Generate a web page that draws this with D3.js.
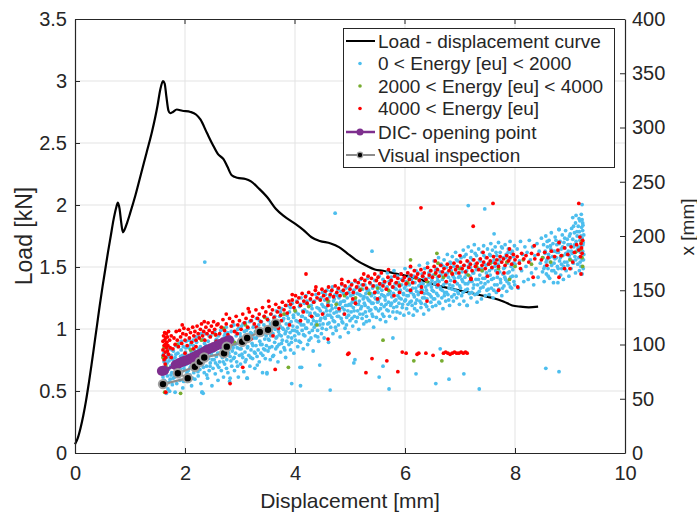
<!DOCTYPE html>
<html><head><meta charset="utf-8">
<script src="https://cdn.jsdelivr.net/npm/d3@7/dist/d3.min.js"></script>
<style>
body{margin:0;background:#fff}
text{font-family:"Liberation Sans",Arial,Helvetica,sans-serif;fill:#262626}
</style>
</head><body>
<svg id="c" width="697" height="518"></svg>
<script>
// ---------- data ----------
const loadD  = [0,0.05,0.1,0.15,0.2,0.25,0.3,0.35,0.4,0.45,0.5,0.55,0.6,0.65,0.7,0.75,0.78,0.81,0.84,0.87,0.9,0.95,1.0,1.1,1.2,1.3,1.4,1.5,1.55,1.6,1.63,1.66,1.7,1.73,1.78,1.85,1.95,2.1,2.2,2.28,2.4,2.5,2.6,2.7,2.77,2.85,2.95,3.1,3.2,3.35,3.5,3.65,3.8,4.0,4.15,4.3,4.45,4.65,4.8,4.95,5.1,5.3,5.45,5.6,5.8,6.0,6.2,6.4,6.6,6.8,7.0,7.2,7.4,7.6,7.8,7.95,8.1,8.25,8.42];
const loadKN = [0.07,0.12,0.2,0.3,0.42,0.56,0.71,0.87,1.03,1.19,1.34,1.48,1.62,1.75,1.88,1.98,2.02,1.97,1.86,1.78,1.8,1.86,1.93,2.08,2.25,2.42,2.59,2.8,2.93,3.0,2.98,2.88,2.76,2.74,2.75,2.77,2.76,2.75,2.73,2.69,2.58,2.49,2.41,2.37,2.31,2.24,2.22,2.21,2.19,2.13,2.06,1.97,1.91,1.85,1.8,1.74,1.71,1.69,1.66,1.61,1.56,1.51,1.48,1.47,1.45,1.43,1.41,1.38,1.35,1.33,1.31,1.29,1.27,1.25,1.22,1.19,1.18,1.175,1.18];

// 0 < Energy < 2000  : [displacement mm, x mm]
const energyLow = [
[1.6,62],[1.6,70],[1.61,78],[1.62,84],[1.6,90],[1.63,74],[1.64,66],[1.65,81],[1.66,88],[1.67,93],[1.68,71],[1.69,59],[1.7,77],[1.71,85],[1.72,96],[1.73,68],[1.74,80],[1.75,90],[1.76,74],[1.77,63],[1.78,86],[1.79,94],[1.8,79],[1.66,55],[1.72,57],
[1.81,70],[1.82,88],[1.83,99],[1.84,76],[1.85,64],[1.86,83],[1.87,92],[1.88,72],[1.89,101],[1.9,80],[1.91,67],[1.92,89],[1.93,95],[1.94,75],[1.95,84],[1.96,60],[1.97,98],[1.98,78],[1.99,87],[2.0,70],[2.01,93],[2.02,103],[2.03,82],[2.04,66],[2.05,90],[2.06,76],[2.07,97],[2.08,85],[2.09,72],[2.1,100],[2.11,80],[2.12,62],[2.13,91],[2.14,86],[2.15,104],[2.16,74],[2.17,95],[2.18,68],[2.19,88],[2.2,79],
[2.21,102],[2.22,84],[2.23,93],[2.24,71],[2.25,107],[2.26,88],[2.27,77],[2.28,98],[2.29,64],[2.3,90],[2.31,56],[2.32,82],[2.33,105],[2.34,95],[2.35,74],[2.36,86],[2.37,110],[2.38,99],[2.39,80],[2.4,92],[2.41,69],[2.42,103],[2.43,87],[2.44,76],[2.45,96],[2.46,83],[2.47,108],[2.48,91],[2.49,62],[2.5,100],[2.51,78],[2.52,94],[2.53,86],[2.54,112],[2.55,73],[2.56,104],[2.57,89],[2.58,97],[2.59,81],[2.6,67],
[2.61,108],[2.62,92],[2.63,84],[2.64,100],[2.65,113],[2.66,76],[2.67,95],[2.68,88],[2.69,105],[2.7,70],[2.71,98],[2.72,82],[2.73,110],[2.74,91],[2.75,116],[2.76,86],[2.77,102],[2.78,74],[2.79,95],[2.8,107],[2.81,66],[2.82,89],[2.83,99],[2.84,112],[2.85,80],[2.86,94],[2.87,104],[2.88,87],[2.89,118],[2.9,76],[2.91,100],[2.92,92],[2.93,108],[2.94,84],[2.95,97],[2.96,114],[2.97,70],[2.98,103],[2.99,90],[3.0,110],
[3.01,82],[3.02,96],[3.03,117],[3.04,105],[3.05,88],[3.06,100],[3.07,75],[3.08,112],[3.09,93],[3.1,120],[3.11,86],[3.12,108],[3.13,69],[3.14,98],[3.15,115],[3.16,90],[3.17,104],[3.18,80],[3.19,111],[3.2,95],[3.21,122],[3.22,101],[3.23,87],[3.24,116],[3.25,106],[3.26,93],[3.27,78],[3.28,112],[3.29,99],[3.3,124],[3.31,89],[3.32,108],[3.33,95],[3.34,118],[3.35,84],[3.36,103],[3.37,113],[3.38,92],[3.39,121],[3.4,100],[3.41,74],[3.42,110],[3.43,96],[3.44,126],[3.45,105],[3.46,87],[3.47,116],[3.48,99],[3.49,73],[3.5,112],
[3.51,94],[3.52,122],[3.53,104],[3.54,115],[3.55,86],[3.56,108],[3.57,128],[3.58,98],[3.59,118],[3.6,110],[3.61,90],[3.62,124],[3.63,102],[3.64,114],[3.65,96],[3.66,131],[3.67,107],[3.68,120],[3.69,84],[3.7,112],[3.71,100],[3.72,126],[3.73,117],[3.74,93],[3.75,108],[3.76,133],[3.77,104],[3.78,122],[3.79,114],[3.8,97],[3.81,128],[3.82,110],[3.83,88],[3.84,119],[3.85,103],[3.86,136],[3.87,115],[3.88,124],[3.89,100],[3.9,130],[3.91,111],[3.92,95],[3.93,121],[3.94,106],[3.95,138],[3.96,117],[3.97,127],[3.98,92],[3.99,113],[4.0,132],
[4.01,104],[4.02,122],[4.03,140],[4.04,116],[4.05,98],[4.06,128],[4.07,110],[4.08,135],[4.09,120],[4.1,102],[4.11,143],[4.12,126],[4.13,113],[4.14,131],[4.15,96],[4.16,118],[4.17,138],[4.18,108],[4.19,124],[4.2,145],[4.21,115],[4.22,130],[4.23,100],[4.24,122],[4.25,136],[4.26,111],[4.27,127],[4.28,141],[4.29,106],[4.3,119],[4.31,133],[4.32,125],[4.33,94],[4.34,139],[4.35,116],[4.36,129],[4.37,108],[4.38,146],[4.39,121],[4.4,134],[4.41,113],[4.42,127],[4.43,103],[4.44,142],[4.45,118],[4.46,131],[4.47,124],[4.48,110],[4.49,137],[4.5,148],
[4.51,119],[4.52,129],[4.53,106],[4.54,141],[4.55,124],[4.56,134],[4.57,114],[4.58,150],[4.59,127],[4.6,138],[4.61,102],[4.62,120],[4.63,144],[4.64,131],[4.65,116],[4.66,136],[4.67,125],[4.68,153],[4.69,110],[4.7,140],[4.71,129],[4.72,121],[4.73,146],[4.74,134],[4.75,113],[4.76,138],[4.77,126],[4.78,151],[4.79,118],[4.8,143],[4.81,131],[4.82,107],[4.83,139],[4.84,124],[4.85,155],[4.86,134],[4.87,120],[4.88,147],[4.89,128],[4.9,140],[4.91,115],[4.92,136],[4.93,152],[4.94,125],[4.95,143],[4.96,131],[4.97,111],[4.98,148],[4.99,137],[5.0,122],
[5.01,145],[5.02,130],[5.03,156],[5.04,139],[5.05,117],[5.06,134],[5.07,150],[5.08,126],[5.09,142],[5.1,158],[5.11,121],[5.12,137],[5.13,147],[5.14,131],[5.15,153],[5.16,114],[5.17,140],[5.18,128],[5.19,160],[5.2,145],[5.21,135],[5.22,124],[5.23,151],[5.24,142],[5.25,119],[5.26,138],[5.27,155],[5.28,130],[5.29,147],[5.3,126],[5.31,143],[5.32,161],[5.33,134],[5.34,150],[5.35,122],[5.36,140],[5.37,156],[5.38,132],[5.39,145],[5.4,128],[5.41,152],[5.42,138],[5.43,116],[5.44,147],[5.45,159],[5.46,134],[5.47,142],[5.48,125],[5.49,154],[5.5,139],
[5.51,148],[5.52,131],[5.53,163],[5.54,143],[5.55,123],[5.56,155],[5.57,137],[5.58,150],[5.59,128],[5.6,160],[5.61,145],[5.62,135],[5.63,157],[5.64,141],[5.65,121],[5.66,152],[5.67,132],[5.68,166],[5.69,146],[5.7,139],[5.71,158],[5.72,126],[5.73,149],[5.74,136],[5.75,162],[5.76,144],[5.77,153],[5.78,130],[5.79,147],[5.8,168],[5.81,140],[5.82,156],[5.83,124],[5.84,151],[5.85,135],[5.86,163],[5.87,145],[5.88,157],[5.89,138],[5.9,149],[5.91,129],[5.92,165],[5.93,142],[5.94,155],[5.95,134],[5.96,160],[5.97,147],[5.98,127],[5.99,152],[6.0,170],
[6.01,141],[6.02,158],[6.03,133],[6.04,150],[6.05,166],[6.06,145],[6.07,129],[6.08,155],[6.09,139],[6.1,171],[6.11,148],[6.12,160],[6.13,136],[6.14,152],[6.15,127],[6.16,163],[6.17,144],[6.18,157],[6.19,138],[6.2,168],[6.21,149],[6.22,131],[6.23,161],[6.24,146],[6.25,154],[6.26,173],[6.27,140],[6.28,158],[6.29,134],[6.3,151],[6.31,165],[6.32,143],[6.33,156],[6.34,128],[6.35,147],[6.36,170],[6.37,137],[6.38,160],[6.39,150],[6.4,142],[6.41,175],[6.42,155],[6.43,132],[6.44,162],[6.45,146],[6.46,168],[6.47,139],[6.48,153],[6.49,159],[6.5,135],
[6.51,164],[6.52,149],[6.53,177],[6.54,142],[6.55,157],[6.56,136],[6.57,170],[6.58,153],[6.59,162],[6.6,145],[6.61,180],[6.62,158],[6.63,138],[6.64,167],[6.65,151],[6.66,174],[6.67,143],[6.68,160],[6.69,133],[6.7,155],[6.71,178],[6.72,148],[6.73,165],[6.74,140],[6.75,171],[6.76,157],[6.77,183],[6.78,146],[6.79,162],[6.8,152],[6.81,136],[6.82,176],[6.83,159],[6.84,168],[6.85,144],[6.86,181],[6.87,154],[6.88,140],[6.89,172],[6.9,161],[6.91,150],[6.92,185],[6.93,166],[6.94,143],[6.95,156],[6.96,177],[6.97,147],[6.98,170],[6.99,137],[7.0,163],
[7.01,152],[7.02,180],[7.03,145],[7.04,167],[7.05,158],[7.06,187],[7.07,140],[7.08,173],[7.09,162],[7.1,150],[7.11,183],[7.12,168],[7.13,136],[7.14,156],[7.15,190],[7.16,176],[7.17,147],[7.18,163],[7.19,171],[7.2,143],[7.21,186],[7.22,158],[7.23,178],[7.24,152],[7.25,166],[7.26,192],[7.27,146],[7.28,174],[7.29,160],[7.3,182],[7.31,139],[7.32,155],[7.33,170],[7.34,188],[7.35,149],[7.36,164],[7.37,177],[7.38,157],[7.39,142],[7.4,185],[7.41,168],[7.42,153],[7.43,191],[7.44,174],[7.45,161],[7.46,145],[7.47,180],[7.48,166],[7.49,150],[7.5,188],
[7.51,158],[7.52,175],[7.53,146],[7.54,183],[7.55,164],[7.56,193],[7.57,152],[7.58,170],[7.59,187],[7.6,143],[7.61,161],[7.62,178],[7.63,155],[7.64,190],[7.65,168],[7.66,148],[7.67,182],[7.68,162],[7.69,174],[7.7,194],[7.71,151],[7.72,167],[7.73,185],[7.74,157],[7.75,176],[7.76,145],[7.77,189],[7.78,165],[7.79,180],[7.8,154],[7.81,171],[7.82,192],[7.83,160],[7.84,183],[7.85,149],[7.86,175],[7.87,166],[7.88,188],[7.89,156],[7.9,178],[7.91,195],[7.92,162],[7.93,172],[7.94,152],[7.95,186],[7.96,169],[7.97,181],[7.98,158],[7.99,191],[8.0,174],
[8.02,163],[8.04,188],[8.06,152],[8.08,177],[8.1,195],[8.12,168],[8.14,183],[8.16,158],[8.18,190],[8.2,172],[8.22,185],[8.24,160],[8.26,196],[8.28,178],[8.3,166],[8.32,190],[8.34,155],[8.36,182],[8.38,170],[8.4,193],[8.42,162],[8.44,186],[8.46,175],[8.48,198],[8.5,167],
[8.51,180],[8.52,192],[8.53,158],[8.54,172],[8.55,186],[8.56,200],[8.57,165],[8.58,178],[8.59,190],[8.6,170],[8.61,183],[8.62,196],[8.63,161],[8.64,176],[8.65,188],[8.66,203],[8.67,168],[8.68,181],[8.69,193],[8.7,157],[8.71,175],[8.72,186],[8.73,199],[8.74,166],[8.75,180],[8.76,192],[8.77,172],[8.78,157],[8.79,185],[8.8,206],[8.81,177],[8.82,195],[8.83,164],[8.84,188],[8.85,170],[8.86,201],[8.87,182],[8.88,160],[8.89,194],[8.9,176],[8.91,189],[8.92,205],[8.93,168],[8.94,183],[8.95,197],[8.96,173],[8.97,186],[8.98,163],[8.99,200],[9.0,179],
[9.01,192],[9.02,170],[9.03,207],[9.04,184],[9.05,197],[9.05,217],[9.06,175],[9.07,190],[9.08,203],[9.09,181],[9.1,212],[9.1,166],[9.11,195],[9.11,219],[9.12,186],[9.13,200],[9.14,174],[9.15,209],[9.15,190],[9.16,180],[9.17,204],[9.17,168],[9.18,196],[9.18,214],[9.19,185],[9.2,200],[9.2,172],[9.21,208],[9.21,191],[9.22,178],[9.22,215],[9.22,198],[9.23,186],[9.23,205],[9.24,170],[9.24,194],[9.25,183],[9.25,201],[9.22,165],[9.23,212],
[1.605,73],[1.615,92],[1.625,67],[1.645,86],[1.655,76],[1.675,83],[1.695,90],[1.705,65],[1.725,88],[1.745,72],[1.765,95],[1.785,69],[1.815,82],[1.835,91],[1.855,73],[1.875,98],[1.895,85],[1.915,77],[1.935,103],[1.955,90],[1.975,66],[1.995,81],
[2.015,97],[2.035,74],[2.055,86],[2.075,104],[2.095,79],[2.115,93],[2.135,69],[2.155,99],[2.175,82],[2.195,107],[2.215,90],[2.235,75],[2.255,96],[2.275,85],[2.295,110],[2.315,92],[2.335,79],[2.355,101],[2.375,88],[2.395,72],[2.415,97],[2.435,108],[2.455,80],[2.475,94],[2.495,86],[2.515,111],[2.535,99],[2.555,83],[2.575,105],[2.595,92],
[2.615,79],[2.635,103],[2.655,90],[2.675,114],[2.695,84],[2.715,108],[2.735,96],[2.755,78],[2.775,111],[2.795,92],[2.815,104],[2.835,85],[2.855,117],[2.875,97],[2.895,88],[2.915,112],[2.935,101],[2.955,80],[2.975,115],[2.995,96],[3.015,107],[3.035,91],[3.055,119],[3.075,102],[3.095,84],[3.115,113],[3.135,97],[3.155,106],[3.175,121],[3.195,88],[3.215,110],[3.235,99],[3.255,117],[3.275,92],[3.295,106],[3.315,81],[3.335,114],[3.355,122],[3.375,100],[3.395,109],[3.415,90],[3.435,118],[3.455,95],[3.475,108],[3.495,124],
[3.515,105],[3.535,97],[3.555,119],[3.575,111],[3.595,89],[3.615,116],[3.635,126],[3.655,106],[3.675,98],[3.695,121],[3.715,109],[3.735,130],[3.755,101],[3.775,115],[3.795,124],[3.815,95],[3.835,112],[3.855,127],[3.875,107],[3.895,119],[3.915,134],[3.935,102],[3.955,113],[3.975,125],[3.995,108],[4.015,130],[4.035,112],[4.055,121],[4.075,103],[4.095,137],[4.115,118],[4.135,126],[4.155,109],[4.175,132],[4.195,115],[4.215,140],[4.235,121],[4.255,104],[4.275,129],[4.295,136],[4.315,113],[4.335,122],[4.355,140],[4.375,118],[4.395,127],[4.415,107],[4.435,133],[4.455,122],[4.475,143],[4.495,115],
[4.515,135],[4.535,125],[4.555,146],[4.575,131],[4.595,119],[4.615,140],[4.635,127],[4.655,149],[4.675,133],[4.695,122],[4.715,142],[4.735,116],[4.755,130],[4.775,145],[4.795,126],[4.815,137],[4.835,149],[4.855,121],[4.875,140],[4.895,132],[4.915,146],[4.935,118],[4.955,136],[4.975,127],[4.995,153],[5.015,136],[5.035,124],[5.055,146],[5.075,131],[5.095,140],[5.115,152],[5.135,125],[5.155,137],[5.175,146],[5.195,133],[5.215,155],[5.235,128],[5.255,144],[5.275,136],[5.295,121],[5.315,150],[5.335,141],[5.355,131],[5.375,147],[5.395,138],[5.415,126],[5.435,154],[5.455,143],[5.475,133],[5.495,149],
[5.515,140],[5.535,152],[5.555,133],[5.575,146],[5.595,156],[5.615,126],[5.635,144],[5.655,137],[5.675,153],[5.695,131],[5.715,147],[5.735,159],[5.755,138],[5.775,145],[5.795,134],[5.815,152],[5.835,141],[5.855,130],[5.875,155],[5.895,143],[5.915,150],[5.935,160],[5.955,137],[5.975,146],[5.995,140],[6.015,154],[6.035,145],[6.055,137],[6.075,162],[6.095,149],[6.115,140],[6.135,157],[6.155,146],[6.175,133],[6.195,152],[6.215,141],[6.235,166],[6.255,148],[6.275,155],[6.295,138],[6.315,150],[6.335,162],[6.355,143],[6.375,153],[6.395,135],[6.415,147],[6.435,166],[6.455,156],[6.475,144],[6.495,150],
[6.515,142],[6.535,156],[6.555,168],[6.575,147],[6.595,159],[6.615,139],[6.635,153],[6.655,164],[6.675,150],[6.695,172],[6.715,145],[6.735,157],[6.755,148],[6.775,166],[6.795,141],[6.815,155],[6.835,175],[6.855,151],[6.875,163],[6.895,146],[6.915,158],[6.935,178],[6.955,149],[6.975,162],[6.995,154],[7.015,171],[7.035,160],[7.055,148],[7.075,181],[7.095,156],[7.115,165],[7.135,151],[7.155,172],[7.175,158],[7.195,180],[7.215,148],[7.235,166],[7.255,155],[7.275,184],[7.295,169],[7.315,147],[7.335,160],[7.355,178],[7.375,152],[7.395,170],[7.415,161],[7.435,182],[7.455,156],[7.475,173],[7.495,163],
[7.515,151],[7.535,168],[7.555,182],[7.575,160],[7.595,176],[7.615,150],[7.635,172],[7.655,185],[7.675,155],[7.695,166],[7.715,178],[7.735,160],[7.755,190],[7.775,152],[7.795,170],[7.815,162],[7.835,180],[7.855,158],[7.875,185],[7.895,167],[7.915,153],[7.935,184],[7.955,163],[7.975,175],[7.995,155],
[8.525,170],[8.545,184],[8.565,176],[8.585,195],[8.605,163],[8.625,180],[8.645,191],[8.665,173],[8.685,186],[8.705,168],[8.725,179],[8.745,196],[8.765,185],[8.785,170],[8.805,193],[8.825,180],[8.845,174],[8.865,190],[8.885,172],[8.905,198],[8.925,184],[8.945,176],[8.965,192],[8.985,182],[9.005,202],[9.025,186],[9.045,177],[9.065,209],[9.085,192],[9.105,178],[9.125,204],[9.145,188],[9.165,216],[9.185,176],[9.205,195],[9.215,185],[9.235,210],[9.245,178],[9.235,192],[9.205,220],
[2.36,176],[4.73,221],[5.4,186],[7.15,228],[7.45,225],[7.62,202],[9.22,229],[8.8,206],
[1.82,56],[2.31,56],[2.33,55],[2.82,69],[3.13,69],[3.49,74],[3.94,64],[4.1,62],[4.12,79],[4.45,81],[4.64,58],[5.07,83],[5.09,86],[5.53,70],[5.6,80],[5.71,59],[5.78,106],[6.2,73],[6.56,64],[6.64,96],[6.8,68],[7.07,73],[7.35,59],[8.56,78],[8.8,75],[7.13,136],[4.09,79]
];

// 2000 < Energy < 4000
const energyMid = [
[1.6,88],[1.62,97],[1.65,80],[1.92,55],[1.63,56],[1.85,100],[2.1,95],[2.3,104],[2.55,109],[2.7,115],[2.9,102],[3.1,118],[3.3,112],[3.45,125],[3.6,120],[3.88,79],[3.8,128],[4.0,131],[4.25,135],[4.4,118],[4.6,140],[4.75,137],[4.9,145],[5.1,143],[5.2,151],[5.35,147],[5.6,104],[5.5,152],[5.7,150],[5.9,155],[6.05,157],[6.16,85],[6.2,161],[6.4,158],[6.55,165],[6.67,85],[6.7,162],[6.85,166],[7.0,170],[7.15,164],[7.3,172],[7.4,168],[7.55,175],[7.7,170],[7.85,176],[8.0,172],[8.15,178],[8.3,174],[8.5,180],[8.65,176],[8.85,182],[9.0,178],[9.1,185],[9.2,188],[9.22,180],[9.21,195],[9.23,172],[6.1,178],[7.9,160],[6.58,184],[6.6,175]
];

// 4000 < Energy
const energyHigh = [
[1.6,95],[1.6,103],[1.61,90],[1.61,108],[1.62,99],[1.62,86],[1.63,104],[1.63,111],[1.64,93],[1.64,100],[1.65,106],[1.65,88],[1.66,97],[1.66,110],[1.67,102],[1.68,94],[1.68,107],[1.69,99],[1.7,112],[1.7,91],[1.72,104],[1.73,97],[1.75,108],[1.64,82],[1.62,76],[1.65,56],
[1.8,106],[1.82,100],[1.84,112],[1.86,104],[1.88,98],[1.9,113],[1.92,107],[1.94,101],[1.96,110],[1.98,115],[2.0,104],[2.02,109],[2.04,99],[2.06,114],[2.08,106],[2.1,111],[2.12,102],[2.14,116],[2.16,108],[2.18,112],[2.2,104],[2.22,117],[2.24,110],[2.26,106],[2.28,114],[2.3,119],[2.32,108],[2.34,112],[2.36,104],[2.38,116],[2.4,110],[2.42,120],[2.44,113],[2.46,107],[2.48,117],[2.5,111],[2.52,121],[2.54,114],[2.56,109],[2.58,118],
[2.6,119],[2.63,110],[2.66,116],[2.69,123],[2.72,113],[2.75,119],[2.78,109],[2.81,124],[2.84,117],[2.87,121],[2.9,112],[2.93,126],[2.96,118],[2.99,122],[3.02,114],[3.05,128],[3.08,120],[3.11,124],[3.14,116],[3.17,130],[3.2,122],[3.23,126],[3.26,119],[3.29,132],[3.32,124],[3.35,128],[3.38,121],[3.41,134],[3.44,126],[3.47,130],[3.5,123],[3.53,135],[3.56,128],[3.59,132],[3.62,125],[3.65,137],[3.68,130],[3.71,134],[3.74,127],[3.77,139],[3.8,132],[3.83,136],[3.86,129],[3.89,140],
[3.92,137],[3.95,141],[3.98,134],[4.01,145],[4.04,139],[4.07,143],[4.1,136],[4.13,147],[4.16,140],[4.19,144],[4.22,138],[4.25,148],[4.28,142],[4.31,146],[4.34,139],[4.37,150],[4.4,143],[4.43,147],[4.46,141],[4.49,151],[4.52,145],[4.55,149],[4.58,142],[4.61,153],[4.64,146],[4.67,150],
[4.7,144],[4.73,154],[4.76,148],[4.79,152],[4.82,145],[4.85,156],[4.88,150],[4.91,154],[4.94,147],[4.97,158],[5.0,151],[5.03,155],[5.06,148],[5.09,159],[5.12,153],[5.15,157],[5.18,150],[5.21,161],[5.24,155],[5.27,159],[5.3,152],[5.33,163],[5.36,157],[5.39,161],[5.42,154],[5.45,165],[5.48,159],[5.51,162],[5.54,156],[5.57,166],
[5.6,154],[5.63,158],[5.66,151],[5.69,162],[5.72,156],[5.75,159],[5.78,153],[5.81,163],[5.84,157],[5.87,161],[5.9,154],[5.93,165],[5.96,159],[5.99,162],[6.02,156],[6.05,166],[6.08,160],[6.11,164],[6.14,157],[6.17,168],[6.2,162],[6.23,165],[6.26,159],[6.29,169],[6.32,163],[6.35,166],[6.38,160],[6.41,171],[6.44,164],[6.47,168],[6.5,162],[6.53,172],[6.56,166],[6.59,169],[6.62,163],[6.65,173],[6.68,167],[6.71,170],[6.74,164],[6.77,174],[6.8,168],[6.83,171],[6.86,165],[6.89,175],
[6.92,169],[6.95,172],[6.98,166],[7.01,176],[7.04,170],[7.07,173],[7.1,167],[7.13,177],[7.16,171],[7.19,174],[7.22,168],[7.25,178],[7.28,172],[7.31,175],[7.34,169],[7.37,179],[7.4,173],[7.43,176],[7.46,170],[7.49,180],[7.52,174],[7.55,177],[7.58,171],[7.61,181],[7.64,175],[7.67,178],[7.7,172],[7.73,181],[7.76,176],[7.79,179],[7.82,173],[7.85,182],[7.88,177],[7.91,180],[7.94,174],[7.97,183],[8.0,178],[8.04,181],[8.08,175],[8.12,184],[8.16,179],[8.2,182],[8.25,176],[8.3,184],[8.36,179],[8.42,183],[8.48,178],[8.54,185],[8.6,180],[8.66,186],[8.72,181],[8.78,187],[8.84,182],[8.9,189],[8.96,183],[9.02,190],[9.08,185],[9.12,192],[9.16,187],[9.2,193],[9.22,184],[9.23,196],[9.21,189],[9.19,181],
[1.78,96],[1.95,118],[2.15,96],[2.35,121],[2.57,103],[2.75,128],[2.95,110],[3.15,133],[3.3,116],[3.52,140],[3.75,122],[3.95,146],[4.15,130],[4.38,153],[4.6,136],[4.85,160],[5.05,142],[5.25,165],[5.45,148],[5.7,169],[5.9,148],[6.1,172],[6.3,153],[6.55,177],[6.75,158],[7.0,182],[7.2,161],[7.42,185],[7.68,166],[7.9,188],[8.1,170],[8.35,191],[8.58,173],[8.8,194],[9.05,176],[9.18,199],[2.45,94],[3.6,108],[4.9,128],[6.4,140],[7.7,150],[8.9,170],
[1.75,88],[2.0,92],[2.2,98],[2.5,100],[2.82,64],[3.05,79],[3.2,105],[3.4,110],[3.64,77],[3.7,115],[3.9,118],[4.1,122],[4.3,126],[4.5,128],[4.6,105],[4.8,133],[4.96,91],[5.1,138],[5.29,74],[5.4,87],[5.5,142],[5.67,85],[5.8,145],[5.87,75],[6.1,150],[6.3,148],[6.6,155],[6.9,158],[7.2,160],[7.5,163],[7.8,166],[8.05,153],[8.33,162],[8.8,162],[9.2,165],[9.0,170],
[4.2,165],[6.29,226],[7.6,230],[7.24,209],[9.16,230],
[4.98,92],[5.95,93],[6.02,92],[6.22,91],[6.25,92],[6.38,92],[6.51,90],[6.7,92],[6.74,93],[6.78,92],[6.82,91],[6.86,92],[6.9,93],[6.94,92],[6.98,92],[7.02,93],[7.06,92],[7.1,93],[7.13,92]
];

const dicD = [1.58,1.62,1.83,1.87,1.9,1.95,1.98,2.02,2.06,2.1,2.14,2.18,2.22,2.26,2.3,2.34,2.38,2.42,2.47,2.52,2.58,2.64,2.7,2.76,2.8];
const dicX = [75.5,76,81,82,83,84,84.5,85.5,86,87,88,89,90,91,92,93,94.5,95.5,96.5,97.5,99,100.5,102,103,104];
const visD = [1.6,2.05,1.87,2.18,2.27,2.35,2.71,2.76,3.04,3.13,3.36,3.51,3.65];
const visX = [63.5,69,73.5,79.5,84,88,92,98,102.5,106,111.5,113.5,119.5];

const xTicks  = [0,2,4,6,8,10];
const yLTicks = [0,0.5,1,1.5,2,2.5,3,3.5];
const yRTicks = [0,50,100,150,200,250,300,350,400];
const legendLabels = ["Load - displacement curve","0 < Energy [eu] < 2000","2000 < Energy [eu] < 4000","4000 < Energy [eu]","DIC- opening point","Visual inspection"];

// ---------- drawing ----------
const svg = d3.select("#c");
const L = 75, R = 625, T = 19, B = 453;
const xS = d3.scaleLinear([0,10],[L,R]);
const yL = d3.scaleLinear([0,3.5],[B,T]);
const yR = d3.scaleLinear([0,400],[B,T]);
const axisCol = "#262626";

svg.append("rect").attr("x",0).attr("y",0).attr("width",697).attr("height",518).attr("fill","#fff");

// grid
const grid = svg.append("g").attr("stroke","#e3e3e3").attr("stroke-width",1);
xTicks.slice(1,-1).forEach(t=>grid.append("line").attr("x1",xS(t)).attr("x2",xS(t)).attr("y1",T).attr("y2",B));
yLTicks.slice(1,-1).forEach(t=>grid.append("line").attr("x1",L).attr("x2",R).attr("y1",yL(t)).attr("y2",yL(t)));

// load curve
svg.append("path")
  .datum(loadD.map((d,i)=>[d,loadKN[i]]))
  .attr("fill","none").attr("stroke","#000").attr("stroke-width",2.2).attr("stroke-linejoin","round")
  .attr("d", d3.line().x(d=>xS(d[0])).y(d=>yL(d[1])).curve(d3.curveMonotoneX));

// scatter
function dots(data,col,r){
  svg.append("g").selectAll("circle").data(data).join("circle")
    .attr("cx",d=>xS(d[0])).attr("cy",d=>yR(d[1])).attr("r",r).attr("fill",col);
}
dots(energyLow,"#4DBEEE",1.9);
dots(energyMid,"#77AC30",1.9);
dots(energyHigh,"#FF0000",1.9);

// DIC
const dicPts = dicD.map((d,i)=>[d,dicX[i]]);
svg.append("path").datum(dicPts).attr("fill","none").attr("stroke","#7E2F8E").attr("stroke-width",3)
  .attr("d",d3.line().x(d=>xS(d[0])).y(d=>yR(d[1])));
svg.append("g").selectAll("circle").data(dicPts).join("circle")
  .attr("cx",d=>xS(d[0])).attr("cy",d=>yR(d[1])).attr("r",5).attr("fill","#7E2F8E");

// Visual inspection
const visPts = visD.map((d,i)=>[d,visX[i]]);
svg.append("path").datum(visPts).attr("fill","none").attr("stroke","#8c8c8c").attr("stroke-width",2.2)
  .attr("d",d3.line().x(d=>xS(d[0])).y(d=>yR(d[1])));
svg.append("g").selectAll("circle").data(visPts).join("circle")
  .attr("cx",d=>xS(d[0])).attr("cy",d=>yR(d[1])).attr("r",4.2)
  .attr("fill","#000").attr("stroke","#a0a0a0").attr("stroke-width",2);

// box top
svg.append("line").attr("x1",L).attr("x2",R).attr("y1",T+0.5).attr("y2",T+0.5).attr("stroke",axisCol).attr("stroke-width",1);
xTicks.slice(1,-1).forEach(t=>svg.append("line").attr("x1",xS(t)).attr("x2",xS(t)).attr("y1",T).attr("y2",T+5).attr("stroke",axisCol));

// axes
const fmt = d=>String(d);
const gx = svg.append("g").attr("transform",`translate(0,${B})`)
  .call(d3.axisBottom(xS).tickValues(xTicks).tickFormat(fmt).tickSizeInner(-5).tickSizeOuter(0).tickPadding(13));
const gl = svg.append("g").attr("transform",`translate(${L},0)`)
  .call(d3.axisLeft(yL).tickValues(yLTicks).tickFormat(fmt).tickSizeInner(-5).tickSizeOuter(0).tickPadding(8));
const gr = svg.append("g").attr("transform",`translate(${R},0)`)
  .call(d3.axisRight(yR).tickValues(yRTicks).tickFormat(fmt).tickSizeInner(-5).tickSizeOuter(0).tickPadding(7));
[gx,gl,gr].forEach(g=>{
  g.select(".domain").attr("stroke",axisCol).attr("stroke-width",1.2);
  g.selectAll(".tick line").attr("stroke",axisCol);
  g.selectAll(".tick text").attr("fill",axisCol).style("font-size","20px").style("font-family",'"Liberation Sans",Arial,sans-serif');
});

// axis labels
svg.append("text").attr("x",350).attr("y",508).attr("text-anchor","middle").style("font-size","21px").text("Displacement [mm]");
svg.append("text").attr("transform","translate(32,236) rotate(-90)").attr("text-anchor","middle").style("font-size","23px").text("Load [kN]");
svg.append("text").attr("transform","translate(694,227) rotate(-90)").attr("text-anchor","middle").style("font-size","19px").text("x [mm]");

// legend
const lg = svg.append("g");
lg.append("rect").attr("x",343.5).attr("y",28.5).attr("width",271).attr("height",139)
  .attr("fill","#fff").attr("stroke",axisCol).attr("stroke-width",1);
const rowY = [41,63.5,86,108.5,132,155];
legendLabels.forEach((lab,i)=>{
  lg.append("text").attr("x",378).attr("y",rowY[i]+6.5).style("font-size","19px").text(lab);
});
lg.append("line").attr("x1",346).attr("x2",375).attr("y1",rowY[0]).attr("y2",rowY[0]).attr("stroke","#000").attr("stroke-width",2);
[["#4DBEEE",1],["#77AC30",2],["#FF0000",3]].forEach(([c,i])=>lg.append("circle").attr("cx",360).attr("cy",rowY[i]).attr("r",1.8).attr("fill",c));
lg.append("line").attr("x1",346).attr("x2",375).attr("y1",rowY[4]).attr("y2",rowY[4]).attr("stroke","#7E2F8E").attr("stroke-width",2.5);
lg.append("circle").attr("cx",360).attr("cy",rowY[4]).attr("r",3.5).attr("fill","#7E2F8E");
lg.append("line").attr("x1",346).attr("x2",375).attr("y1",rowY[5]).attr("y2",rowY[5]).attr("stroke","#8c8c8c").attr("stroke-width",2);
lg.append("circle").attr("cx",360).attr("cy",rowY[5]).attr("r",2.8).attr("fill","#000").attr("stroke","#a0a0a0").attr("stroke-width",1.2);
</script>
</body></html>
